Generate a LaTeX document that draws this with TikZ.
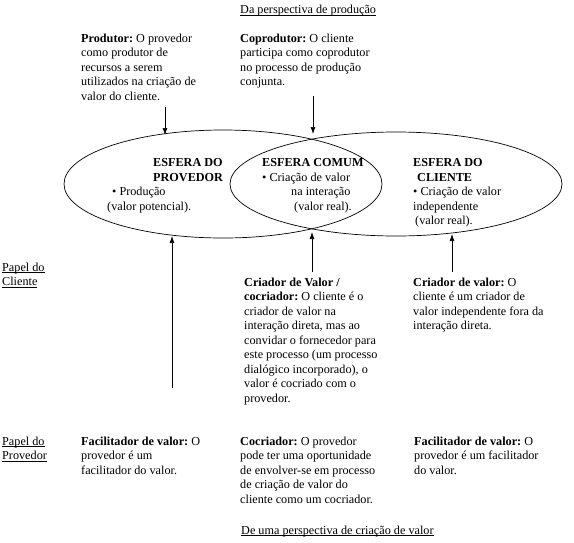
\documentclass[tikz,border=0pt]{standalone}
\usepackage{fontspec}
\setmainfont{Liberation Serif}
\usetikzlibrary{arrows.meta,shapes.geometric}
\newcommand\sublinha[1]{\setbox0\hbox{#1}\rlap{\rule[-1.6pt]{\wd0}{0.5pt}}\box0}
\frenchspacing

\begin{document}
\begin{tikzpicture}[x=1pt,y=-1pt,>={Latex[length=7pt,width=5pt]},
  texto/.style={anchor=north west,inner sep=0pt,align=left,font=\fontsize{12.2}{14.5}\selectfont},
  esfera/.style={draw,ellipse,line width=0.7pt,inner sep=0pt},
  seta/.style={->,line width=0.7pt}]
\useasboundingbox (0,0) rectangle (574,542);
% as duas esferas
\node [esfera,minimum width=318pt,minimum height=108pt] (provedor) at (223,184) {};
\node [esfera,minimum width=332pt,minimum height=104pt] (cliente) at (396,184) {};
% perspectiva de producao
\node [texto] (titprod) at (240,5) {\sublinha{Da perspectiva de produção}};
\node [texto] (produtor) at (81,33.5) {\textbf{Produtor:} O provedor\\como produtor de\\recursos a serem\\utilizados na criação de\\valor do cliente.};
\node [texto] (coprodutor) at (240,33.5) {\textbf{Coprodutor:} O cliente\\participa como coprodutor\\no processo de produção\\conjunta.};
% textos das esferas
\node [texto] (txtprov) at (107,158.5) {\hspace*{46pt}\textbf{ESFERA DO}\\\hspace*{46pt}\textbf{PROVEDOR}\\\hspace*{5pt}• Produção\\(valor potencial).};
\node [texto] (txtcomum) at (262,158.5) {\textbf{ESFERA COMUM}\\• Criação de valor\\\hspace*{29pt}na interação\\\hspace*{32pt}(valor real).};
\node [texto] (txtcli) at (413,158.5) {\textbf{ESFERA DO}\\\hspace*{4pt}\textbf{CLIENTE}\\• Criação de valor\\independente\\\hspace*{2pt}(valor real).};
% papel do cliente
\node [texto] (papelcli) at (2,262.5) {\sublinha{Papel do}\\\sublinha{Cliente}};
\node [texto] (cocriador) at (244,277.5) {\textbf{Criador de Valor /}\\\textbf{cocriador:} O cliente é o\\criador de valor na\\interação direta, mas ao\\convidar o fornecedor para\\este processo (um processo\\dialógico incorporado), o\\valor é cocriado com o\\provedor.};
\node [texto] (criador) at (413,277.5) {\textbf{Criador de valor:} O\\cliente é um criador de\\valor independente fora da\\interação direta.};
% papel do provedor
\node [texto] (papelprov) at (2,436.5) {\sublinha{Papel do}\\\sublinha{Provedor}};
\node [texto] (facil1) at (81,436.5) {\textbf{Facilitador de valor:} O\\provedor é um\\facilitador do valor.};
\node [texto] (cocriprov) at (240,436.5) {\textbf{Cocriador:} O provedor\\pode ter uma oportunidade\\de envolver-se em processo\\de criação de valor do\\cliente como um cocriador.};
\node [texto] (facil2) at (414,436.5) {\textbf{Facilitador de valor:} O\\provedor é um facilitador\\do valor.};
\node [texto] (titvalor) at (241,525.5) {\sublinha{De uma perspectiva de criação de valor}};
% setas
\coordinate (s1) at (165,107); \coordinate (f1) at (165,135);
\coordinate (s2) at (313,96);  \coordinate (f2) at (313,134);
\coordinate (s3) at (172,388); \coordinate (f3) at (172,236);
\coordinate (s4) at (312,272); \coordinate (f4) at (312,232);
\coordinate (s5) at (452,272); \coordinate (f5) at (452,234);
\draw [seta] (s1) -- (f1);
\draw [seta] (s2) -- (f2);
\draw [seta] (s3) -- (f3);
\draw [seta] (s4) -- (f4);
\draw [seta] (s5) -- (f5);
\end{tikzpicture}
\end{document}
